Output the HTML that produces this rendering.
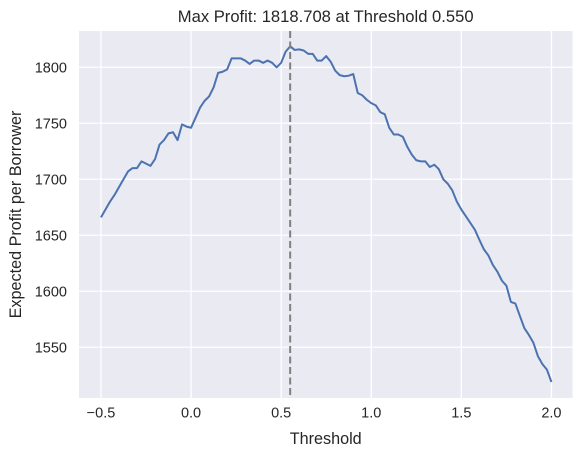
<!DOCTYPE html>
<html><head><meta charset="utf-8"><style>
body{margin:0;background:#fff;font-family:"Liberation Sans",sans-serif;}
svg text{font-family:"Liberation Sans",sans-serif;fill:#262626;}
</style></head><body>
<svg id="chart" width="583" height="457" xmlns="http://www.w3.org/2000/svg">
<rect x="79" y="31" width="493.5" height="367" fill="#eaeaf2"/>
<g id="grid"></g>
<g id="ticks"></g>
<text x="325.7" y="22" font-size="16.6" text-anchor="middle">Max Profit: 1818.708 at Threshold 0.550</text>
<text x="325.7" y="444" font-size="16.2" text-anchor="middle">Threshold</text>
<text x="0" y="0" font-size="16.2" text-anchor="middle" transform="translate(21,214.5) rotate(-90)">Expected Profit per Borrower</text>
<g id="marks"></g>
</svg>
<script>
const thresholds=[];for(let i=0;i<=100;i++)thresholds.push(-0.5+i*0.025);
const profits=[1666,1673,1680,1686,1693,1700,1707,1710,1710,1716,1714,1712,1718,1731,1735,1741,1742,1735,1749,1747,1746,1755,1764,1770,1774,1782,1795,1796,1798,1808,1808,1808,1806,1803,1806,1806,1804,1806,1804,1800,1804,1814,1818.7,1815.5,1816,1815,1812,1812,1806,1806,1810,1805,1797,1793,1792,1792.5,1794,1777,1775,1771,1768,1766,1760,1758,1746,1740,1740,1738,1729,1722,1717,1716,1716,1711,1713,1709,1700,1696,1690,1680,1673,1667,1661,1655,1646,1637.5,1632,1623.5,1617.5,1609.5,1605,1590.5,1589,1578,1567,1561,1554,1542,1535,1530,1519];
const xTicks=[-0.5,0.0,0.5,1.0,1.5,2.0];
const xTickLabels=["−0.5","0.0","0.5","1.0","1.5","2.0"];
const yTicks=[1550,1600,1650,1700,1750,1800];
const bestThreshold=0.55;
const L=79,R=572.5,T=31,B=398;
const x0=-0.622,x1=2.117,y0=1504.7,y1=1832.4;
const sx=v=>L+(v-x0)/(x1-x0)*(R-L);
const sy=v=>B-(v-y0)/(y1-y0)*(B-T);
const NS="http://www.w3.org/2000/svg";
function mk(tag,attrs,parent){const e=document.createElementNS(NS,tag);for(const k in attrs)e.setAttribute(k,attrs[k]);document.getElementById(parent).appendChild(e);return e;}
xTicks.forEach((v,i)=>{
  const g=mk('line',{x1:sx(v),x2:sx(v),y1:T,y2:B,stroke:'#fff','stroke-width':1.3},'grid');
  
  
  const t=mk('text',{x:sx(v),y:B+19.5,'font-size':14.5,'text-anchor':'middle'},'ticks');
  t.textContent=xTickLabels[i];
  
  
});
yTicks.forEach(v=>{
  const g=mk('line',{x1:L,x2:R,y1:sy(v),y2:sy(v),stroke:'#fff','stroke-width':1.3},'grid');
  
  
  const t=mk('text',{x:L-12,y:sy(v)+5,'font-size':14.5,'text-anchor':'end'},'ticks');
  t.textContent=v;
  
  
});
const pts=thresholds.map((t,i)=>sx(t).toFixed(2)+','+sy(profits[i]).toFixed(2)).join(' ');
const line=mk('polyline',{points:pts,fill:'none',stroke:'#4c72b0','stroke-width':2,'stroke-linejoin':'round'},'marks');


const vl=mk('line',{x1:sx(bestThreshold),x2:sx(bestThreshold),y1:T,y2:B,stroke:'#808080','stroke-width':2,'stroke-dasharray':'7,3.5'},'marks');


</script>
</body></html>
